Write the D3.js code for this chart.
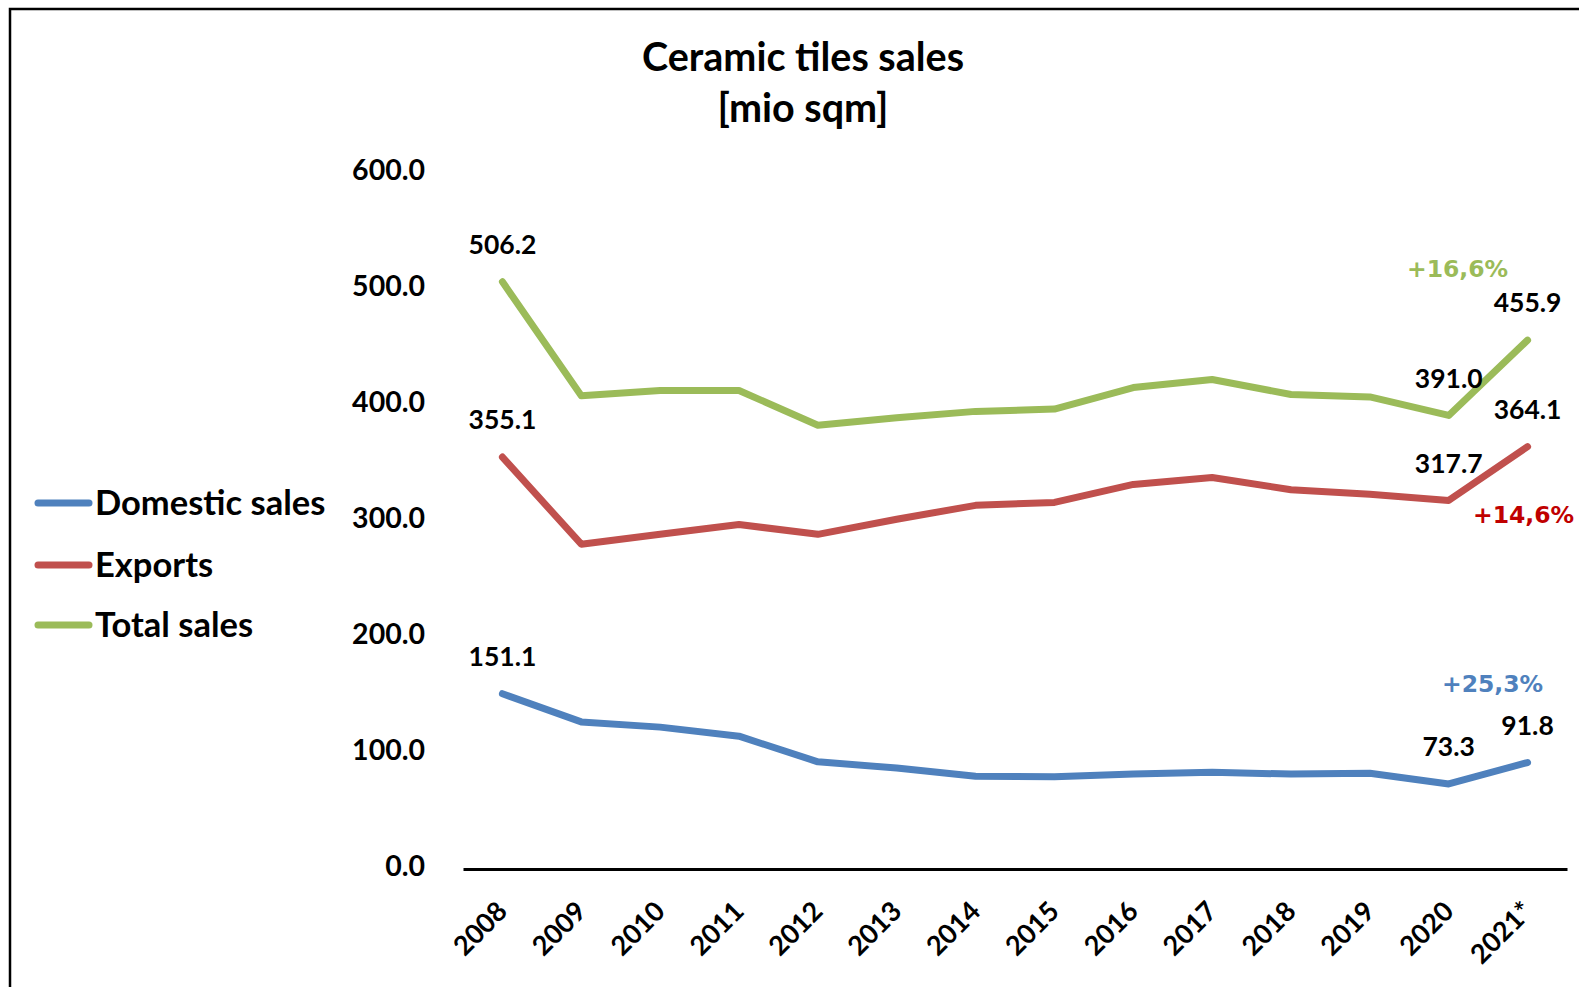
<!DOCTYPE html>
<html>
<head>
<meta charset="utf-8">
<script src="https://cdn.jsdelivr.net/npm/d3@7"></script>
<style>
  html, body { margin: 0; padding: 0; background: #fff; }
  svg { display: block; }
</style>
</head>
<body>
<script>
// ---- data ----
const years = ["2008","2009","2010","2011","2012","2013","2014","2015","2016","2017","2018","2019","2020","2021*"];
const domestic = [151.1,126.8,122.3,114.5,92.4,87.0,80.0,79.5,82.0,83.5,81.8,82.6,73.3,91.8];
const exportsV = [355.1,280.0,288.5,297.0,288.5,301.5,313.5,316.0,331.5,337.5,327.0,323.0,317.7,364.1];
const total    = [506.2,408.0,412.5,412.5,382.5,389.0,394.5,396.5,415.0,422.0,409.0,407.0,391.0,455.9];
const seriesNames = ["Domestic sales","Exports","Total sales"];
const yTicks = [0,100,200,300,400,500,600];
const labeledYears = ["2008","2020","2021*"];
const growthLabels = ["+25,3%","+14,6%","+16,6%"];
const titleLines = ["Ceramic tiles sales","[mio sqm]"];

const colors = ["#4f81bd","#c0504d","#9bbb59"];
const pctColors = ["#4f81bd","#c00000","#9bbb59"];
const seriesVals = [domestic, exportsV, total];

const W = 1579, H = 987;
const svg = d3.select("body").append("svg").attr("width", W).attr("height", H);
const FONT = "Lato, 'Open Sans', sans-serif";

// border
svg.append("rect").attr("x",10).attr("y",9).attr("width",W+20).attr("height",H+20)
  .attr("fill","none").attr("stroke","#000").attr("stroke-width",2.5);

// title
svg.selectAll("text.title").data(titleLines).join("text")
  .attr("class","title")
  .attr("x",803).attr("y",(d,i)=>57+i*51)
  .attr("dy","0.35em")
  .attr("text-anchor","middle")
  .style("font-family",FONT).style("font-weight","bold").style("font-size","39.5px")
  .text(d=>d);

// scales
const x = d3.scalePoint().domain(years).range([463,1567]).padding(0.5);
const y = d3.scaleLinear().domain([0,600]).range([869,173]);

// y axis labels
const yAxis = d3.axisLeft(y).tickValues(yTicks).tickFormat(d3.format(".1f")).tickSize(0).tickPadding(0);
const gy = svg.append("g").attr("transform","translate(425,-3)").call(yAxis);
gy.select(".domain").remove();
gy.selectAll("text").style("font-family",FONT).style("font-weight","bold").style("font-size","28.5px").attr("fill","#000");

// x axis
const xAxis = d3.axisBottom(x).tickSize(0).tickPadding(0);
const gx = svg.append("g").attr("transform","translate(0,869)").call(xAxis);
gx.select(".domain").attr("stroke","#000").attr("stroke-width",3);
gx.selectAll(".tick text")
  .attr("text-anchor","end")
  .attr("dy",0).attr("y",0)
  .attr("transform","translate(6,44) rotate(-45)")
  .style("font-family",FONT).style("font-weight","bold").style("font-size","27px").attr("fill","#000");

// lines
const line = d3.line().x((d,i)=>x(years[i])).y(d=>y(d));
svg.selectAll("path.series").data(seriesVals).join("path")
  .attr("class","series")
  .attr("d",line)
  .attr("fill","none")
  .attr("stroke",(d,i)=>colors[i])
  .attr("stroke-width",7)
  .attr("stroke-linejoin","round")
  .attr("stroke-linecap","round");

// data labels
seriesVals.forEach((vals,s)=>{
  const pts = years.map((yr,i)=>({yr, v: vals[i]})).filter(p=>labeledYears.includes(p.yr));
  svg.selectAll(null).data(pts).join("text")
    .attr("x",p=>x(p.yr)).attr("y",p=>y(p.v)-37)
    .attr("dy","0.35em").attr("text-anchor","middle")
    .style("font-family",FONT).style("font-weight","bold").style("font-size","26.5px")
    .text(p=>p.v.toFixed(1));
});

// growth labels (offsets relative to last point)
const pctOffsets = [[-35,-79],[-4,68],[-70,-71]];
growthLabels.forEach((t,s)=>{
  const last = years.length-1;
  svg.append("text")
    .attr("x",x(years[last])+pctOffsets[s][0])
    .attr("y",y(seriesVals[s][last])+pctOffsets[s][1])
    .attr("dy","0.35em").attr("text-anchor","middle")
    .style("font-family","'DejaVu Sans', Verdana, sans-serif").style("font-weight","bold").style("font-size","23.5px")
    .attr("fill",pctColors[s])
    .text(t);
});

// legend
const lg = svg.append("g");
const legY = [503,565,625];
seriesNames.forEach((n,i)=>{
  lg.append("line").attr("x1",38).attr("x2",89).attr("y1",legY[i]).attr("y2",legY[i])
    .attr("stroke",colors[i]).attr("stroke-width",7).attr("stroke-linecap","round");
  lg.append("text").attr("x",95).attr("y",legY[i]).attr("dy","0.35em")
    .style("font-family",FONT).style("font-weight","bold").style("font-size","34.5px")
    .text(n);
});
</script>
</body>
</html>
